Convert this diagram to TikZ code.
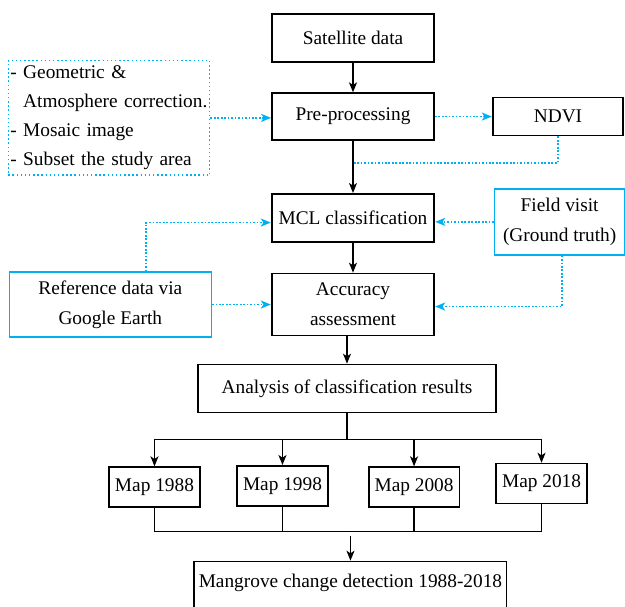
\documentclass[tikz,border=0pt]{standalone}
\usepackage{fontspec}
\setmainfont{Liberation Serif}
\usetikzlibrary{arrows.meta}
\definecolor{skyline}{RGB}{0,176,240}

\begin{document}
\begin{tikzpicture}[->,>={Stealth[length=7.5pt,width=6pt,inset=2pt]},
		main box/.style={rectangle,draw,line width=1.3pt,align=center,font=\fontsize{14.5}{22.5}\selectfont},
		side box/.style={rectangle,draw=skyline,line width=1.1pt,align=center,font=\fontsize{14.5}{22.5}\selectfont},
		map box/.style={main box,minimum width=68pt,minimum height=30pt,inner sep=1pt},
		dot link/.style={draw=skyline,line width=1.4pt,dash pattern=on 1.3pt off 1.3pt}]

		\useasboundingbox (0,0) rectangle (468.75pt,-455.25pt);

		\node[main box,minimum width=121.5pt,minimum height=36pt] (sat) at (264.75pt,-28.5pt) {Satellite data};
		\node[main box,minimum width=121.5pt,minimum height=35pt] (pre) [below of=sat,node distance=58.9pt] {Pre-processing};
		\node[main box,minimum width=122pt,minimum height=36pt] (mcl) [below of=pre,node distance=76pt] {MCL classification};
		\node[main box,minimum width=122pt,minimum height=46.5pt] (acc) [below of=mcl,node distance=65pt] {Accuracy\\assessment};
		\node[main box,minimum width=223pt,minimum height=36pt] (ana) [below of=acc,node distance=63pt,xshift=-4.5pt] {Analysis of classification results};

		\node[main box,minimum width=98pt,minimum height=28.5pt] (ndvi) [right of=pre,node distance=153.75pt] {NDVI};
		\node[side box,minimum width=97.5pt,minimum height=49.5pt] (field) [right of=mcl,node distance=155pt,yshift=-3pt] {Field visit\\(Ground truth)};
		\node[side box,minimum width=151.5pt,minimum height=48.75pt] (ref) [left of=acc,node distance=182pt] {Reference data via\\Google Earth};
		\node[rectangle,draw=skyline,line width=1.1pt,dotted,text width=148pt,inner xsep=1.5pt,inner ysep=4pt,align=left,
			font=\fontsize{14.5}{21.75}\selectfont] (geo) [left of=pre,node distance=183pt,yshift=-1pt]
			{- Geometric \&\\\hphantom{- }Atmosphere correction.\\- Mosaic image\\- Subset the study area};

		\node[map box] (m1) [below of=ana,node distance=74pt,xshift=-144.4pt] {Map 1988};
		\node[map box] (m2) [below of=ana,node distance=73pt,xshift=-48.4pt] {Map 1998};
		\node[map box] (m3) [below of=ana,node distance=74pt,xshift=50.3pt] {Map 2008};
		\node[map box] (m4) [below of=ana,node distance=71.3pt,xshift=145.9pt] {Map 2018};

		\node[main box,minimum width=230pt,minimum height=37.5pt,text depth=9pt] (mang) [below of=ana,node distance=148.5pt,xshift=2.6pt] {Mangrove change detection 1988-2018};

		% main flow
		\path[line width=1.1pt]
		(sat) edge (pre)
		(pre) edge (mcl)
		(mcl) edge (acc)
		(ana.north |- acc.south) edge (ana.north);

		% branches to the maps
		\path (ana.south) ++(0,-19.5pt) coordinate (split);
		\draw[-,line width=1.1pt] (ana.south) -- (split);
		\draw[-,line width=1.1pt] (m1.north |- split) -- (m4.north |- split);
		\foreach \m in {m1,m2,m3,m4}
			\draw[line width=1.1pt] (\m.north |- split) -- (\m.north);

		% maps joined into change detection
		\path (mang.north) ++(0,21.75pt) coordinate (join);
		\draw[-,line width=1.1pt] (m1.south) -- (m1.south |- join) -- (m4.south |- join) -- (m4.south);
		\draw[-,line width=1.1pt] (m2.south) -- (m2.south |- join);
		\draw[-,line width=1.1pt] (m3.south) -- (m3.south |- join);
		\draw[line width=1.1pt] ([yshift=-3pt]join) -- (mang.north);

		% dotted side links
		\draw[dot link] (geo.east) -- (geo.east -| pre.west);
		\draw[dot link] (pre.east) -- (ndvi.west);
		\draw[dot link,-] (ndvi.south) |- ([yshift=-16.5pt]pre.south);
		\draw[dot link] (field.west) -- (field.west -| mcl.east);
		\draw[dot link] ([xshift=2pt]field.south) |- ([yshift=-1.5pt]acc.east);
		\draw[dot link] (ref.east) -- (ref.east -| acc.west);
		\draw[dot link] ([xshift=26.6pt]ref.north) |- ([yshift=-3.5pt]mcl.west);
\end{tikzpicture}
\end{document}
